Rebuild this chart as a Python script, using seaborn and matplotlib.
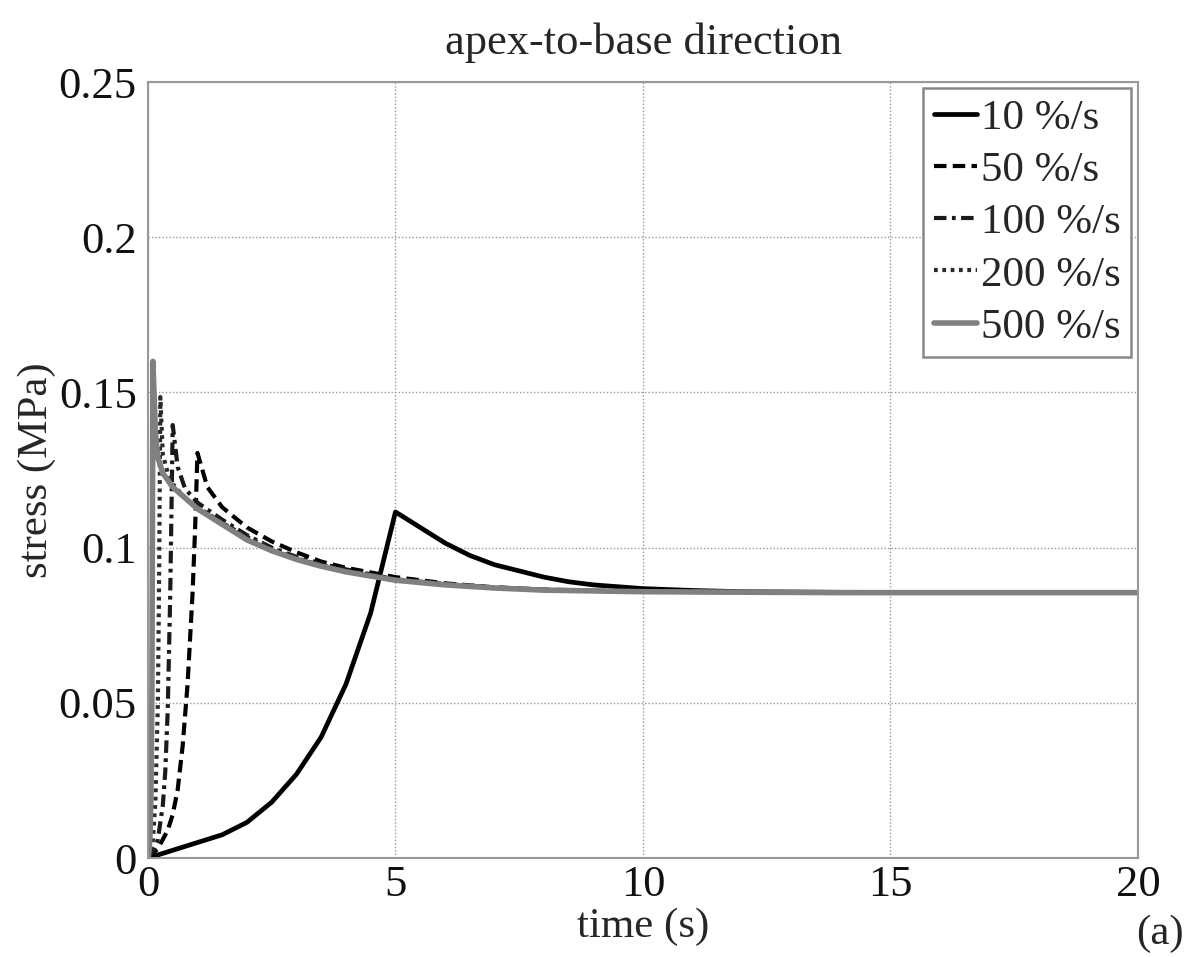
import matplotlib
matplotlib.use("Agg")
import matplotlib.pyplot as plt
import seaborn as sns

# time (s) and stress (MPa), one pair of lists per strain rate
t_10 = [0, 0.5, 1, 1.5, 2, 2.5, 3, 3.5, 4, 4.5, 5, 5.5, 6, 6.5, 7, 7.5, 8, 8.5, 9, 10, 11, 12, 14, 20]
s_10 = [0, 0.0025, 0.005, 0.0075, 0.0115, 0.018, 0.027, 0.039, 0.056, 0.079, 0.1115,
        0.1065, 0.1015, 0.0975, 0.0945, 0.0925, 0.0905, 0.089, 0.088, 0.0868, 0.0862, 0.0858, 0.0856, 0.0855]

t_50 = [0, 0.2, 0.4, 0.5, 0.6, 0.7, 0.8, 0.9, 0.95, 1, 1.2, 1.5, 2, 2.5, 3, 3.5, 4, 4.5, 5, 6, 7, 8, 10, 14, 20]
s_50 = [0, 0.003, 0.009, 0.014, 0.022, 0.036, 0.056, 0.085, 0.105, 0.1305, 0.1195, 0.113, 0.1065,
        0.102, 0.0985, 0.0955, 0.0935, 0.092, 0.0905, 0.0885, 0.0872, 0.0865, 0.0858, 0.0855, 0.0855]

t_100 = [0, 0.1, 0.2, 0.3, 0.35, 0.4, 0.45, 0.5, 0.6, 0.75, 1, 1.5, 2, 2.5, 3, 3.5, 4, 5, 6, 7, 8, 10, 14, 20]
s_100 = [0, 0.002, 0.006, 0.017, 0.028, 0.048, 0.085, 0.1395, 0.126, 0.119, 0.1145, 0.109, 0.104,
         0.1, 0.097, 0.0948, 0.093, 0.0898, 0.0883, 0.0872, 0.0864, 0.0858, 0.0855, 0.0855]

t_200 = [0, 0.05, 0.1, 0.15, 0.2, 0.225, 0.25, 0.3, 0.4, 0.5, 0.75, 1, 1.5, 2, 2.5, 3, 3.5, 4, 5, 6, 7, 8, 10, 14, 20]
s_200 = [0, 0.002, 0.006, 0.018, 0.05, 0.09, 0.1485, 0.13, 0.124, 0.1205, 0.116, 0.113, 0.108, 0.1035,
         0.0995, 0.0965, 0.0943, 0.0925, 0.0897, 0.0882, 0.0871, 0.0863, 0.0858, 0.0855, 0.0855]

t_500 = [0, 0.02, 0.04, 0.06, 0.08, 0.1, 0.15, 0.2, 0.3, 0.5, 1, 1.5, 2, 2.5, 3, 3.5, 4, 5, 6, 7, 8, 10, 14, 20]
s_500 = [0, 0.002, 0.007, 0.02, 0.055, 0.16, 0.137, 0.129, 0.124, 0.1195, 0.1125, 0.1075, 0.1025,
         0.099, 0.0962, 0.094, 0.0922, 0.0895, 0.088, 0.087, 0.0863, 0.0858, 0.0855, 0.0855]

labels = ["10 %/s", "50 %/s", "100 %/s", "200 %/s", "500 %/s"]
x_ticks = [0, 5, 10, 15, 20]
y_ticks = [0, 0.05, 0.1, 0.15, 0.2, 0.25]
y_tick_labels = ["0", "0.05", "0.1", "0.15", "0.2", "0.25"]

sns.set_style("white")
plt.rcParams["font.family"] = ["Liberation Serif", "DejaVu Serif"]

fig = plt.figure(figsize=(12.02, 9.57), dpi=100)
ax = fig.add_axes([0.1231, 0.1034, 0.8236, 0.8109])

series = [(t_10, s_10), (t_50, s_50), (t_100, s_100), (t_200, s_200), (t_500, s_500)]
colors = ["black", "black", "#1a1a1a", "#2a2a2a", "#808080"]
styles = ["-", (0, (3, 1.5)), (0, (3, 1.3, 0.9, 1.3)), (0, (0.9, 1.1)), "-"]
widths = [3.4, 3.0, 3.0, 3.0, 4.0]

for (t, s), lab, c, ls, lw in zip(series, labels, colors, styles, widths):
    sns.lineplot(x=t, y=s, ax=ax, color=c, linestyle=ls, linewidth=lw, label=lab)

ax.set_xlim(0, 20)
ax.set_ylim(0, 0.25)
ax.set_xticks(x_ticks)
ax.set_xticklabels([str(v) for v in x_ticks])
ax.set_yticks(y_ticks)
ax.set_yticklabels(y_tick_labels)
ax.tick_params(axis="both", labelsize=32, length=0, colors="#111111")
ax.tick_params(axis="x", pad=5)
ax.tick_params(axis="y", pad=8)

ax.grid(True, linestyle=(0, (1, 1.5)), color="#999999", linewidth=1.0)
for sp in ax.spines.values():
    sp.set_color("#999999")
    sp.set_linewidth(1.5)

ax.set_xlabel("time (s)", fontsize=31, labelpad=2)
ax.set_ylabel("stress (MPa)", fontsize=31, labelpad=2)
ax.set_title("apex-to-base direction", fontsize=32, pad=20)
fig.text(0.965, 0.004, "(a)", fontsize=31, ha="center", va="bottom")

leg = ax.legend(loc="upper right", fontsize=31, frameon=True, fancybox=False,
                edgecolor="#888888", framealpha=1, handlelength=1.0, handletextpad=0.1,
                labelspacing=0.3, borderpad=0.25, borderaxespad=0.15)
leg.get_frame().set_linewidth(1.8)

fig.savefig("out.png", dpi=100)
